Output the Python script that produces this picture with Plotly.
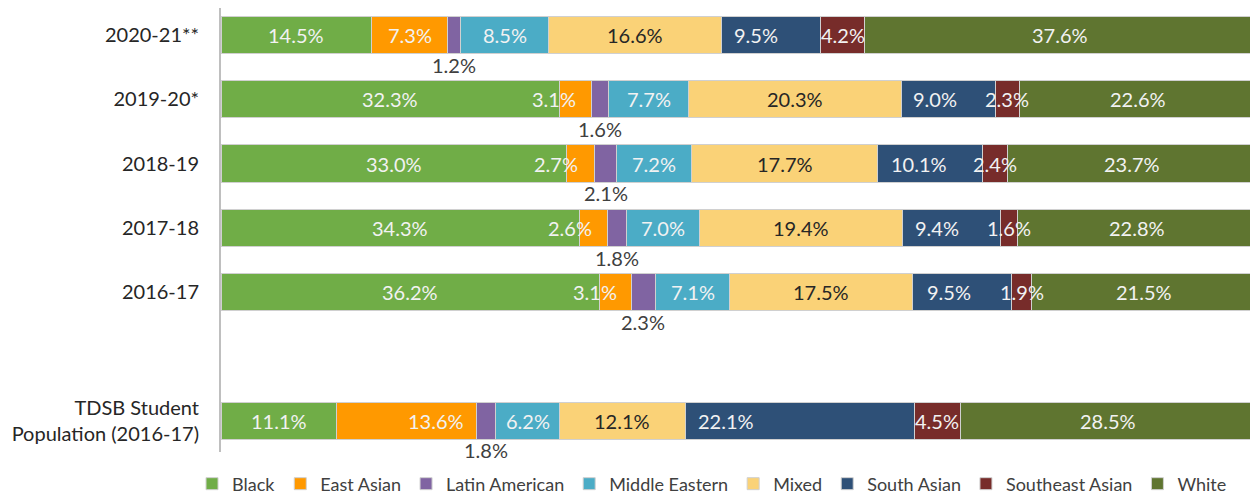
import plotly.graph_objects as go

rows = ["2020-21**", "2019-20*", "2018-19", "2017-18", "2016-17", "TDSB Student<br>Population (2016-17)"]
row_pos = [6, 5, 4, 3, 2, 0]

groups = ["Black", "East Asian", "Latin American", "Middle Eastern", "Mixed",
          "South Asian", "Southeast Asian", "White"]

black = [14.5, 32.3, 33.0, 34.3, 36.2, 11.1]
east_asian = [7.3, 3.1, 2.7, 2.6, 3.1, 13.6]
latin_american = [1.2, 1.6, 2.1, 1.8, 2.3, 1.8]
middle_eastern = [8.5, 7.7, 7.2, 7.0, 7.1, 6.2]
mixed = [16.6, 20.3, 17.7, 19.4, 17.5, 12.1]
south_asian = [9.5, 9.0, 10.1, 9.4, 9.5, 22.1]
southeast_asian = [4.2, 2.3, 2.4, 1.6, 1.9, 4.5]
white = [37.6, 22.6, 23.7, 22.8, 21.5, 28.5]

series = [black, east_asian, latin_american, middle_eastern, mixed,
          south_asian, southeast_asian, white]
colors = ["#70AD47", "#FF9900", "#8064A2", "#4BACC6", "#FAD277",
          "#2E5077", "#772C2A", "#5F7530"]
text_colors = ["#F2F2F2", "#F2F2F2", "#404040", "#F2F2F2", "#262626",
               "#F2F2F2", "#F2F2F2", "#F2F2F2"]
# horizontal nudges (px) of the value labels, as placed in the original chart
label_nudge = {
    "East Asian": [0, -21, -24, -24, -20, 30],
    "South Asian": [-15, -13, -11, -14, -13, -74],
}

FONT = "Lato"
FS = 20
fig = go.Figure()
for name, vals, col in zip(groups, series, colors):
    fig.add_trace(go.Bar(
        y=row_pos, x=vals, name=name, orientation="h",
        marker=dict(color=col, line=dict(color="#D0D0D0", width=1)),
        width=0.58, hoverinfo="x+name",
    ))

# value labels, placed at each segment's centre in normalized (100%) coordinates
for i, yp in enumerate(row_pos):
    total = sum(s[i] for s in series)
    cum = 0.0
    for name, vals, tcol in zip(groups, series, text_colors):
        v = vals[i]
        mid = (cum + v / 2) / total * 100
        cum += v
        if name == "Latin American":
            fig.add_annotation(x=mid, y=yp - 0.29, xref="x", yref="y",
                               text=f"{v:.1f}%", showarrow=False,
                               yanchor="top", yshift=3,
                               font=dict(color=tcol, size=FS, family=FONT))
        else:
            dx = label_nudge.get(name, [0] * 6)[i]
            fig.add_annotation(x=mid, y=yp, xref="x", yref="y",
                               text=f"{v:.1f}%", showarrow=False, xshift=dx,
                               font=dict(color=tcol, size=FS, family=FONT))

fig.update_layout(
    barmode="stack", barnorm="percent",
    width=1250, height=500,
    margin=dict(l=213, r=2, t=0, b=56),
    plot_bgcolor="white", paper_bgcolor="white",
    font=dict(family=FONT, size=FS, color="#262626"),
    showlegend=True,
    legend=dict(orientation="h", x=-0.028, xanchor="left",
                y=-0.072, yanchor="middle",
                font=dict(size=18, color="#404040", family=FONT),
                itemwidth=30, tracegroupgap=0, traceorder="normal"),
    xaxis=dict(range=[0, 100], visible=False, showgrid=False),
    yaxis=dict(range=[-0.485, 6.42], tickvals=row_pos, ticktext=rows,
               showline=True, linecolor="#BFBFBF", linewidth=2,
               showgrid=False, zeroline=False, ticks="", ticklen=0,
               ticklabelstandoff=16,
               tickfont=dict(size=FS, color="#262626", family=FONT)),
)

fig.write_html("out.html")
